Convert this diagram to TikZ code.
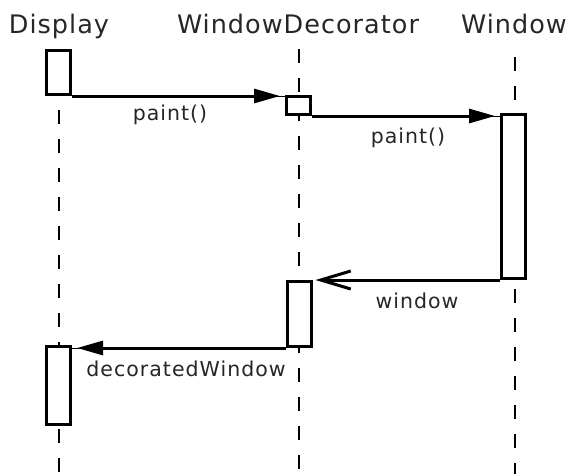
\documentclass[tikz,border=0pt]{standalone}
\usepackage{fontspec}
\setmainfont{DejaVu Sans}
\newfontfamily\titlefont[LetterSpace=4]{DejaVu Sans}
\newfontfamily\msgfont[LetterSpace=5]{DejaVu Sans}
\usetikzlibrary{arrows.meta}
\begin{document}
\begin{tikzpicture}[x=1pt,y=-1pt,
  actbox/.style={draw=black,fill=white,line width=3pt,inner sep=0pt,minimum width=24pt},
  lifeline/.style={line width=2pt,dash pattern=on 14pt off 15pt},
  title/.style={font=\titlefont\fontsize{25.5}{28}\selectfont,anchor=base,inner sep=0pt,text=black!85},
  msg/.style={font=\msgfont\fontsize{20.5}{22}\selectfont,anchor=base,inner sep=0pt,text=black!85},
  call/.style={line width=3pt,-{Triangle[length=26pt,width=14pt]},shorten >=5pt},
  ret/.style={line width=3pt,-{Straight Barb[length=30pt,width=18pt,line width=3pt]}},
  thinline/.style={line width=1pt}]
\useasboundingbox (0,0) rectangle (572,474);
% titles
\node[title] (tD) at (59,33) {Display};
\node[title] (tWD) at (298,33) {WindowDecorator};
\node[title] (tW) at (514,33) {Window};
% lifelines
\coordinate (lDtop) at (58.5,110);
\coordinate (lDbot) at (58.5,474);
\coordinate (lWDtop) at (298.5,49);
\coordinate (lWDbot) at (298.5,474);
\coordinate (lWtop) at (514.5,57);
\coordinate (lWbot) at (514.5,474);
\draw[lifeline] (lDtop) -- (lDbot);
\draw[lifeline] (lWDtop) -- (lWDbot);
\draw[lifeline] (lWtop) -- (lWbot);
% activation boxes
\node[actbox,minimum height=44pt] (d1) at (58.5,72.5) {};
\node[actbox,minimum height=18pt] (wd1) at (298.5,105.5) {};
\node[actbox,minimum height=164pt] (w1) at (513.5,196.5) {};
\node[actbox,minimum height=65pt] (wd2) at (299,314) {};
\node[actbox,minimum height=78pt] (d2) at (58.5,385.5) {};
% messages
\draw[thinline] (d1.south east) -- (d1.south east -| wd1.west);
\draw[call] (d1.south east) -- (d1.south east -| wd1.west);
\node[msg] (m1) at (170,120) {paint()};
\draw[thinline] (wd1.south east) -- (wd1.south east -| w1.west);
\draw[call] (wd1.south east) -- (wd1.south east -| w1.west);
\node[msg] (m2) at (408,143) {paint()};
\draw[ret,shorten >=3pt] (w1.south west) -- (w1.south west -| wd2.east);
\node[msg] (m3) at (417,308) {window};
\draw[thinline] (wd2.south west) -- (wd2.south west -| d2.east);
\draw[call] (wd2.south west) -- (wd2.south west -| d2.east);
\node[msg] (m4) at (186,376) {decoratedWindow};
\end{tikzpicture}
\end{document}
